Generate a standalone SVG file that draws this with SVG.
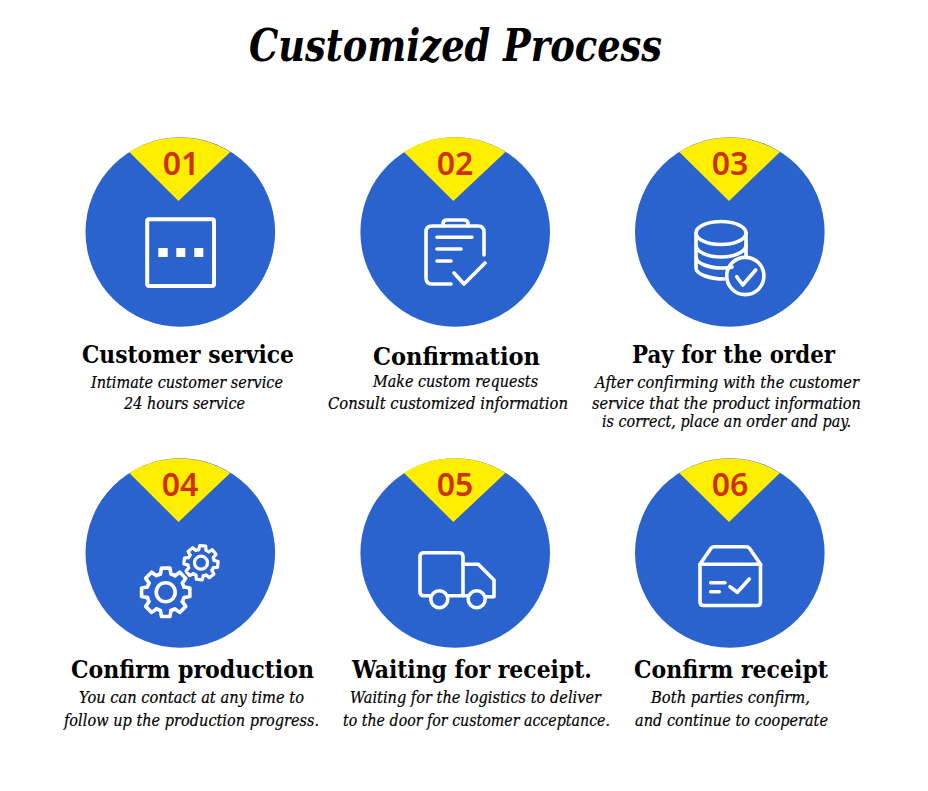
<svg xmlns="http://www.w3.org/2000/svg" xmlns:xlink="http://www.w3.org/1999/xlink" width="928" height="791" viewBox="0 0 928 791">
<style>
.disc{fill:#2a63cd}
.wedge{fill:#ffee00}
.num{font-family:"Noto Sans","Liberation Sans",sans-serif;font-weight:600;font-size:32px;fill:#d03000;text-anchor:middle}
.ttl{font-family:"DejaVu Serif",serif;font-weight:700;font-style:italic;font-size:45px;fill:#000}
.h{font-family:"DejaVu Serif",serif;font-weight:700;font-size:25px;fill:#000}
.s{font-family:"DejaVu Serif",serif;font-style:italic;font-size:16.500px;fill:#000;stroke:#000;stroke-width:.2px}
.ic{fill:none;stroke:#fff;stroke-width:3.600;stroke-linecap:round;stroke-linejoin:round}
</style>
<defs>
<path id="tooth" d="M-5.24-18.26L-4.25-24.13L4.25-24.13L5.24-18.26A19 19 0 0 1 9.21-16.62"/>
<g id="gear">
<use xlink:href="#tooth"/><use xlink:href="#tooth" transform="rotate(45)"/><use xlink:href="#tooth" transform="rotate(90)"/><use xlink:href="#tooth" transform="rotate(135)"/><use xlink:href="#tooth" transform="rotate(180)"/><use xlink:href="#tooth" transform="rotate(225)"/><use xlink:href="#tooth" transform="rotate(270)"/><use xlink:href="#tooth" transform="rotate(315)"/>
</g>
</defs>
<rect width="928" height="791" fill="#fff"/>
<text class="ttl" x="249" y="61" textLength="413" lengthAdjust="spacingAndGlyphs">Customized Process</text>

<g id="connectors"></g>

<g id="node-01">
<circle class="disc" cx="180.3" cy="232" r="94.8"/>
<path class="wedge" d="M129.3 152A94.8 94.8 0 0 1 230.3 152L178.5 201Z"/>
<text class="num" x="181" y="174.5">01</text>
<rect class="ic" x="147.2" y="219.2" width="66.8" height="66.8" rx="2" style="stroke-width:4"/>
<g fill="#fff"><rect x="158.3" y="248" width="9.4" height="9"/><rect x="176.3" y="248" width="9" height="9"/><rect x="194.3" y="248" width="9" height="9"/></g>
<text class="h" x="82" y="362.5" textLength="212" lengthAdjust="spacingAndGlyphs">Customer service</text>
<text class="s" x="91" y="387.5" textLength="192" lengthAdjust="spacingAndGlyphs">Intimate customer service</text>
<text class="s" x="124" y="408.5" textLength="121" lengthAdjust="spacingAndGlyphs">24 hours service</text>
</g>

<g id="node-02">
<circle class="disc" cx="455.2" cy="232" r="94.8"/>
<path class="wedge" d="M404 152A94.8 94.8 0 0 1 505.4 152L453.3 201Z"/>
<text class="num" x="455" y="174.5">02</text>
<g class="ic">
<path d="M484 255V232Q484 226 478 226H432Q426 226 426 232V278Q426 284 432 284H451"/>
<path d="M443 226V224Q443 220 447 220H464Q468 220 468 224V226"/>
<path d="M437 237.3H472M437 249H461M437 261H451M454 273L464 284L485 263"/>
</g>
<text class="h" x="373" y="364.5" textLength="167" lengthAdjust="spacingAndGlyphs">Confirmation</text>
<text class="s" x="373" y="387" textLength="165" lengthAdjust="spacingAndGlyphs">Make custom requests</text>
<text class="s" x="328" y="408.5" textLength="240" lengthAdjust="spacingAndGlyphs">Consult customized information</text>
</g>

<g id="node-03">
<circle class="disc" cx="729.8" cy="232" r="94.8"/>
<path class="wedge" d="M679.3 152A94.8 94.8 0 0 1 780 152L729 201Z"/>
<text class="num" x="730" y="174.5">03</text>
<g class="ic">
<ellipse cx="721" cy="233" rx="25" ry="11.5"/>
<path d="M696 233V268C696 274 709 279 724 279"/>
<path d="M746 233V256"/>
<path d="M696 245C696 252 708 257 721 257C734 257 746 252 746 245"/>
<path d="M696 257C696 263 708 268 721 268C725 268 729 268 732 267"/>
<circle cx="745.3" cy="276" r="18.6"/>
<path d="M736.7 276.7L742.7 285L755.7 270"/>
</g>
<text class="h" x="632" y="362.5" textLength="203" lengthAdjust="spacingAndGlyphs">Pay for the order</text>
<text class="s" x="595" y="387.5" textLength="264" lengthAdjust="spacingAndGlyphs">After confirming with the customer</text>
<text class="s" x="592" y="408.5" textLength="269" lengthAdjust="spacingAndGlyphs">service that the product information</text>
<text class="s" x="602" y="426.5" textLength="249" lengthAdjust="spacingAndGlyphs">is correct, place an order and pay.</text>
</g>

<g id="node-04">
<circle class="disc" cx="180.3" cy="553" r="94.8"/>
<path class="wedge" d="M129.3 473A94.8 94.8 0 0 1 230.3 473L178.5 522Z"/>
<text class="num" x="180" y="495.5">04</text>
<g class="ic">
<use xlink:href="#gear" transform="translate(165.7 592.3)"/>
<circle cx="165.7" cy="592.3" r="9.5"/>
<use xlink:href="#gear" transform="translate(201 562.7) rotate(6) scale(.7)" style="stroke-width:4.600"/>
<circle cx="201" cy="562.7" r="6.5" style="stroke-width:3.200"/>
</g>
<text class="h" x="71" y="677.5" textLength="243" lengthAdjust="spacingAndGlyphs">Confirm production</text>
<text class="s" x="79" y="702.5" textLength="225" lengthAdjust="spacingAndGlyphs">You can contact at any time to</text>
<text class="s" x="64" y="726" textLength="255" lengthAdjust="spacingAndGlyphs">follow up the production progress.</text>
</g>

<g id="node-05">
<circle class="disc" cx="455.2" cy="553" r="94.8"/>
<path class="wedge" d="M404 473A94.8 94.8 0 0 1 505.4 473L453.3 522Z"/>
<text class="num" x="455" y="495.5">05</text>
<g class="ic">
<path d="M430.5 595.7H424Q420 595.7 420 591.7V556.7Q420 552.7 424 552.7H459Q463 552.7 463 556.7V595.7"/>
<path d="M448 595.7H468"/>
<path d="M463 564.3H478.3L494 580V596.7H485.5"/>
<circle cx="439.3" cy="599.3" r="8.5"/>
<circle cx="476.7" cy="599.3" r="8.5"/>
</g>
<text class="h" x="352" y="677.5" textLength="240" lengthAdjust="spacingAndGlyphs">Waiting for receipt.</text>
<text class="s" x="350" y="702.5" textLength="251" lengthAdjust="spacingAndGlyphs">Waiting for the logistics to deliver</text>
<text class="s" x="343" y="726" textLength="267" lengthAdjust="spacingAndGlyphs">to the door for customer acceptance.</text>
</g>

<g id="node-06">
<circle class="disc" cx="729.8" cy="553" r="94.8"/>
<path class="wedge" d="M679.3 473A94.8 94.8 0 0 1 780 473L729 522Z"/>
<text class="num" x="730" y="495.5">06</text>
<g class="ic">
<path d="M700 564.3V602Q700 605.5 703.5 605.5H757Q760.5 605.5 760.5 602V564.3L750 549Q748.5 546.7 746 546.7H714.5Q712 546.7 710.5 549Z"/>
<path d="M700 564.3H760.5"/>
<path d="M710.7 582.7H725M710.7 591.7H719.3M730 586.7L737.3 592.3L749.3 579"/>
</g>
<text class="h" x="634" y="677.5" textLength="194" lengthAdjust="spacingAndGlyphs">Confirm receipt</text>
<text class="s" x="651" y="702.5" textLength="159" lengthAdjust="spacingAndGlyphs">Both parties confirm,</text>
<text class="s" x="635" y="726" textLength="193" lengthAdjust="spacingAndGlyphs">and continue to cooperate</text>
</g>
</svg>
